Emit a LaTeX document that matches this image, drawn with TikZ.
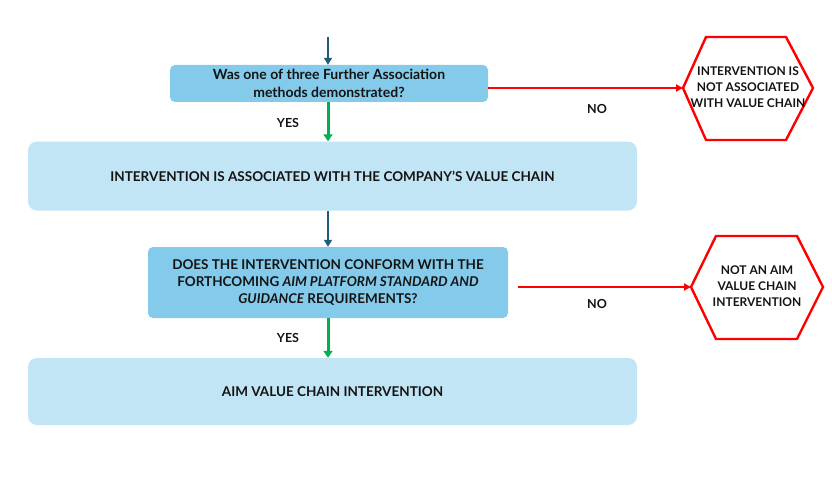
\documentclass[tikz,border=0pt]{standalone}
\usepackage{fontspec}
\setmainfont{Lato}
\usetikzlibrary{arrows.meta}
\definecolor{qfill}{HTML}{84CBEB}
\definecolor{rfill}{HTML}{C2E5F5}
\definecolor{darr}{HTML}{1F5C7A}
\definecolor{garr}{HTML}{00B050}
\definecolor{txt}{HTML}{141414}
\tikzset{
  qbox/.style={fill=qfill, rounded corners=5pt, align=center, inner sep=0pt, text=txt},
  rbox/.style={fill=rfill, rounded corners=9pt, align=center, inner sep=0pt, text=txt, font=\bfseries\fontsize{13.5}{16}\selectfont, minimum width=609pt, minimum height=69pt},
  lbl/.style={text=txt, font=\bfseries\fontsize{12.5}{14}\selectfont, inner sep=0pt},
  hexline/.style={draw=red, line width=2.4pt, line join=miter},
  hextext/.style={align=center, text=txt, font=\bfseries\fontsize{12}{16}\selectfont, inner sep=0pt},
  darrow/.style={draw=darr, line width=2.4pt, -{Triangle[length=7pt,width=8pt]}},
  garrow/.style={draw=garr, line width=3pt, -{Triangle[length=7pt,width=9pt]}},
  rarrow/.style={draw=red, line width=2pt, -{Triangle[length=7pt,width=7pt]}},
}
\begin{document}
\begin{tikzpicture}[x=1pt,y=-1pt]
\useasboundingbox (0,0) rectangle (832,484);
% boxes
\node[qbox, minimum width=318pt, minimum height=37pt, font=\bfseries\fontsize{14}{18}\selectfont] (q1) at (329,83.5) {Was one of three Further Association\\methods demonstrated?};
\node[rbox] (r1) at (332.5,176) {INTERVENTION IS ASSOCIATED WITH THE COMPANY’S VALUE CHAIN};
\node[qbox, minimum width=360pt, minimum height=71pt, font=\bfseries\fontsize{13.5}{17}\selectfont] (q2) at (328,282.5) {DOES THE INTERVENTION CONFORM WITH THE\\FORTHCOMING \textit{AIM PLATFORM STANDARD AND}\\\textit{GUIDANCE} REQUIREMENTS?};
\node[rbox, minimum height=67pt] (r2) at (332.5,391.5) {AIM VALUE CHAIN INTERVENTION};
% hexagons
\draw[hexline] (683,88) -- (706,37) -- (786,37) -- (813,88) -- (786,140) -- (706,140) -- cycle;
\coordinate (h1) at (683,88);
\node[hextext] (t1) at (748,87) {INTERVENTION IS\\NOT ASSOCIATED\\WITH VALUE CHAIN};
\draw[hexline] (691,287) -- (716,236) -- (797,236) -- (823,287) -- (797,339) -- (716,339) -- cycle;
\coordinate (h2) at (691,287);
\node[hextext] (t2) at (757,286) {NOT AN AIM\\VALUE CHAIN\\INTERVENTION};
% arrows
\coordinate (start) at (328,37);
\draw[darrow] (start) -- (q1.north -| start);
\draw[garrow] (q1.south -| start) -- (r1.north -| start);
\draw[darrow] (r1.south -| start) -- (q2.north -| start);
\draw[garrow] (q2.south -| start) -- (r2.north -| start);
\draw[rarrow] (q1.east |- h1) -- (h1);
\coordinate (s2) at (518,287);
\draw[rarrow] (s2) -- (h2);
% labels
\node[lbl] (y1) at (288,123) {YES};
\node[lbl] (y2) at (288,338) {YES};
\node[lbl] (n1) at (597,109) {NO};
\node[lbl] (n2) at (597,304) {NO};
\end{tikzpicture}
\end{document}
